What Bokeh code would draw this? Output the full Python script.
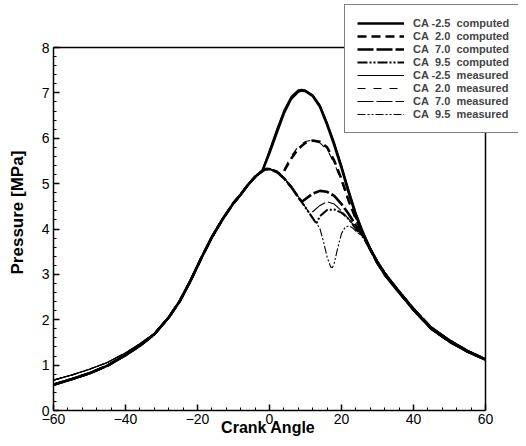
from bokeh.plotting import figure
from bokeh.models import Legend, LegendItem, Range1d, FixedTicker
from bokeh.embed import file_html
from bokeh.resources import INLINE

# Shared compression / motoring part (crank angle [deg], pressure [MPa])
crank_base = [-60, -55, -50, -45, -40, -36, -32, -28, -25, -22, -19, -16, -13, -10, -8, -6, -4, -2, -1, 0,
              2, 4, 6, 8, 10, 12, 14]
p_base_computed = [0.57, 0.69, 0.82, 0.99, 1.22, 1.43, 1.68, 2.05, 2.40, 2.85, 3.35, 3.82, 4.22, 4.57, 4.76,
                   4.97, 5.15, 5.28, 5.32, 5.32, 5.26, 5.12, 4.93, 4.70, 4.47, 4.24, 4.00]
p_base_measured = [0.67, 0.78, 0.91, 1.06, 1.27, 1.47, 1.70, 2.06, 2.40, 2.85, 3.35, 3.82, 4.22, 4.57, 4.76,
                   4.97, 5.15, 5.29, 5.33, 5.33, 5.27, 5.13, 4.94, 4.71, 4.48, 4.25, 4.01]

# Shared expansion tail
crank_tail = [30, 32, 35, 40, 45, 50, 55, 60]
p_tail_computed = [3.25, 3.00, 2.70, 2.22, 1.80, 1.52, 1.30, 1.12]
p_tail_measured = [3.30, 3.05, 2.74, 2.26, 1.84, 1.56, 1.33, 1.14]

# Per-case segments (after departure from the motoring curve)
ca_m25_x = [-2, 0, 2, 4, 6, 8, 9, 10, 12, 14, 16, 18, 20, 22, 24, 26, 28]
ca_m25_computed = [5.28, 5.68, 6.12, 6.55, 6.87, 7.03, 7.05, 7.04, 6.93, 6.70, 6.30, 5.85, 5.35, 4.80, 4.30, 3.90, 3.55]
ca_m25_measured = [5.29, 5.75, 6.20, 6.62, 6.92, 7.07, 7.08, 7.06, 6.96, 6.74, 6.36, 5.92, 5.42, 4.88, 4.37, 3.95, 3.60]

ca_20_x = [3, 4, 6, 8, 10, 12, 14, 16, 18, 20, 22, 24, 26, 28]
ca_20_computed = [5.20, 5.27, 5.55, 5.77, 5.90, 5.95, 5.92, 5.80, 5.50, 5.10, 4.62, 4.22, 3.88, 3.55]
ca_20_measured = [5.20, 5.30, 5.60, 5.82, 5.93, 5.96, 5.90, 5.75, 5.45, 5.05, 4.60, 4.22, 3.90, 3.58]

ca_70c_x = [9, 10, 12, 14, 16, 18, 20, 22, 24, 26, 28]
ca_70_computed = [4.60, 4.66, 4.78, 4.84, 4.82, 4.73, 4.55, 4.33, 4.08, 3.85, 3.55]
ca_70m_x = [11, 12, 14, 16, 18, 20, 22, 24, 26, 28]
ca_70_measured = [4.36, 4.38, 4.52, 4.60, 4.55, 4.40, 4.22, 4.02, 3.85, 3.58]

ca_95c_x = [13, 14, 16, 18, 20, 22, 24, 26, 28]
ca_95_computed = [4.12, 4.28, 4.42, 4.43, 4.36, 4.22, 4.00, 3.82, 3.55]
ca_95m_x = [15, 16, 17, 17.5, 18, 19, 20, 21, 22, 23, 24, 26, 28]
ca_95_measured = [3.72, 3.38, 3.16, 3.15, 3.25, 3.60, 3.90, 4.04, 4.07, 4.03, 3.95, 3.83, 3.58]

x_ticks = [-60, -40, -20, 0, 20, 40, 60]
y_ticks = [0, 1, 2, 3, 4, 5, 6, 7, 8]


def build(seg_x, seg_p, measured):
    base_p = p_base_measured if measured else p_base_computed
    tail_p = p_tail_measured if measured else p_tail_computed
    xs = [x for x in crank_base if x < seg_x[0]]
    ps = base_p[:len(xs)]
    return xs + list(seg_x) + crank_tail, ps + list(seg_p) + tail_p


NB = "\u00a0"
series = [
    ("CA -2.5" + NB * 2 + "computed", ca_m25_x, ca_m25_computed, False, "solid", 2.6),
    ("CA" + NB * 2 + "2.0" + NB * 2 + "computed", ca_20_x, ca_20_computed, False, "9 5", 2.6),
    ("CA" + NB * 2 + "7.0" + NB * 2 + "computed", ca_70c_x, ca_70_computed, False, "16 3", 2.6),
    ("CA" + NB * 2 + "9.5" + NB * 2 + "computed", ca_95c_x, ca_95_computed, False, "10 2 2 2 2 2", 2.0),
    ("CA -2.5" + NB * 2 + "measured", ca_m25_x, ca_m25_measured, True, "solid", 1.1),
    ("CA" + NB * 2 + "2.0" + NB * 2 + "measured", ca_20_x, ca_20_measured, True, "8 8", 1.1),
    ("CA" + NB * 2 + "7.0" + NB * 2 + "measured", ca_70m_x, ca_70_measured, True, "16 3", 1.1),
    ("CA" + NB * 2 + "9.5" + NB * 2 + "measured", ca_95m_x, ca_95_measured, True, "8 2 2 2 2 2", 1.1),
]

FONT = "Liberation Sans"

# Layout (canvas pixels): the data box spans these pixel edges; the frame is
# extended to the top/right canvas edges so that the legend can overlap the box corner.
W, H = 518, 438
BOX_L, BOX_R, BOX_T, BOX_B = 53, 485, 47, 410
x0, x1 = x_ticks[0], x_ticks[-1]
y0, y1 = y_ticks[0], y_ticks[-1]
x_end = x1 + (W - BOX_R) * (x1 - x0) / (BOX_R - BOX_L)
y_end = y1 + BOX_T * (y1 - y0) / (BOX_B - BOX_T)

p = figure(width=W, height=H, output_backend="svg", toolbar_location=None,
           x_range=Range1d(x0, x_end), y_range=Range1d(y0, y_end),
           min_border_left=BOX_L, min_border_right=0, min_border_top=0, min_border_bottom=H - BOX_B)
p.grid.visible = False
p.outline_line_color = None
p.background_fill_color = "white"
p.border_fill_color = "white"

# top and right edges of the data box
p.line([x0, x1, x1], [y1, y1, y0], line_color="black", line_width=1.5)

items = []
for label, sx, sp, measured, dash, lw in series:
    xs, ps = build(sx, sp, measured)
    r = p.line(xs, ps, line_color="black", line_width=lw, line_dash=dash)
    items.append(LegendItem(label=label, renderers=[r]))

for ax in (p.xaxis[0], p.yaxis[0]):
    ax.axis_line_width = 1.5
    ax.major_tick_in = 6
    ax.major_tick_out = 0
    ax.minor_tick_in = 3
    ax.minor_tick_out = 0
    ax.major_tick_line_width = 1.5
    ax.major_label_text_font = FONT
    ax.major_label_text_font_size = "14px"
    ax.major_label_text_color = "black"
    ax.axis_label_text_font = FONT
    ax.axis_label_text_font_style = "bold"
    ax.axis_label_text_color = "black"

p.xaxis[0].axis_label_text_font_size = "16px"
p.yaxis[0].axis_label_text_font_size = "17px"
p.xaxis[0].bounds = (x0, x1)
p.yaxis[0].bounds = (y0, y1)
p.xaxis[0].ticker = FixedTicker(ticks=x_ticks, minor_ticks=list(range(x0, x1 + 1, 4)))
p.yaxis[0].ticker = FixedTicker(ticks=y_ticks, minor_ticks=[i / 5 for i in range(0, 41)])
# trailing no-break spaces re-centre the labels on the data box (the frame is wider/taller)
p.xaxis[0].axis_label = "Crank Angle" + NB * 8
p.yaxis[0].axis_label = "Pressure [MPa]" + NB * 3
p.xaxis[0].major_label_standoff = 3
p.xaxis[0].axis_label_standoff = -8
p.yaxis[0].major_label_standoff = 4
p.yaxis[0].axis_label_standoff = 12

legend = Legend(items=items, location=(291, 277), orientation="vertical",
                label_text_font=FONT, label_text_font_style="bold", label_text_font_size="11px",
                label_height=12, glyph_height=12, glyph_width=47, spacing=1, padding=12,
                label_standoff=9, margin=0,
                border_line_color="black", border_line_width=1,
                background_fill_color="white", background_fill_alpha=1.0)
p.add_layout(legend, "center")

open("out.html", "w").write(file_html(p, INLINE))
